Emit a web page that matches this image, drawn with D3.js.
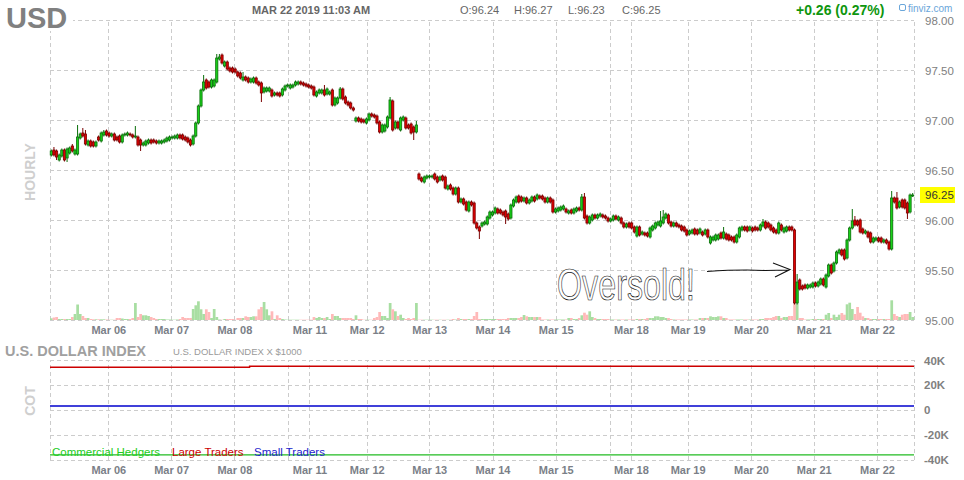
<!DOCTYPE html>
<html><head><meta charset="utf-8">
<script src="https://cdn.jsdelivr.net/npm/d3@7"></script>
<style>
body{margin:0;background:#fff}
svg{display:block}
text{font-family:"Liberation Sans",Arial,sans-serif}
</style>
</head><body>
<svg id="chart" width="964" height="480"></svg>
<script>
// ---------- DATA ----------
const opens=[
96.65,96.70,96.69,96.60,96.64,96.70,96.62,96.67,96.74,96.66,
96.66,96.82,96.87,96.86,96.75,96.79,96.78,96.74,96.83,96.79,
96.85,96.89,96.87,96.84,96.86,96.83,96.84,96.78,96.85,96.85,
96.86,96.85,96.83,96.83,96.80,96.75,96.75,96.77,96.80,96.80,
96.79,96.77,96.77,96.78,96.79,96.80,96.82,96.82,96.82,96.85,
96.85,96.83,96.82,96.80,96.76,96.84,96.97,97.14,97.30,97.40,
97.38,97.33,97.34,97.38,97.61,97.65,97.54,97.58,97.52,97.52,
97.51,97.48,97.47,97.40,97.43,97.42,97.38,97.38,97.42,97.38,
97.37,97.28,97.29,97.29,97.30,97.25,97.27,97.27,97.25,97.30,
97.34,97.32,97.33,97.35,97.36,97.38,97.37,97.36,97.35,97.34,
97.33,97.24,97.27,97.27,97.30,97.26,97.26,97.30,97.15,97.17,
97.22,97.31,97.23,97.18,97.17,97.12,96.99,97.02,97.01,97.00,
96.97,97.00,97.06,97.05,97.04,96.98,96.88,96.89,96.93,97.02,
97.19,96.92,96.98,96.90,97.00,97.02,96.95,96.96,96.93,96.88,
96.46,96.42,96.38,96.42,96.43,96.43,96.46,96.43,96.40,96.44,
96.43,96.31,96.35,96.32,96.26,96.32,96.18,96.21,96.18,96.09,
96.18,96.17,95.97,95.93,95.94,95.96,95.96,96.02,96.05,96.07,
96.11,96.10,96.08,96.09,96.06,96.02,96.14,96.18,96.24,96.23,
96.19,96.22,96.17,96.19,96.23,96.21,96.24,96.24,96.22,96.18,
96.22,96.20,96.08,96.09,96.10,96.11,96.11,96.07,96.10,96.07,
96.09,96.12,96.10,96.23,96.04,95.97,96.00,96.05,96.02,96.04,
96.05,96.04,96.02,95.99,96.00,96.04,96.00,96.02,95.97,95.93,
95.97,95.97,95.93,95.84,95.93,95.86,95.87,95.87,95.83,95.90,
95.92,95.95,95.94,95.97,96.02,96.05,95.98,95.94,95.97,95.95,
95.94,95.93,95.90,95.86,95.87,95.91,95.90,95.87,95.88,95.86,
95.90,95.77,95.80,95.80,95.81,95.87,95.82,95.86,95.85,95.83,
95.83,95.78,95.83,95.90,95.93,95.93,95.90,95.92,95.93,95.92,
95.90,95.94,95.98,95.97,95.95,95.92,95.90,95.87,95.95,95.88,
95.89,95.93,95.93,95.90,95.17,95.40,95.34,95.35,95.32,95.33,
95.33,95.37,95.34,95.36,95.41,95.33,95.44,95.55,95.49,95.57,
95.67,95.70,95.70,95.62,95.80,95.92,96.00,95.99,96.00,95.91,
95.87,95.88,95.87,95.78,95.80,95.82,95.82,95.78,95.80,95.78,
95.71,96.22,96.22,96.13,96.20,96.20,96.17,96.08,96.24];
const closes=[
96.69,96.65,96.63,96.65,96.70,96.60,96.71,96.72,96.69,96.70,
96.83,96.86,96.84,96.76,96.79,96.74,96.74,96.78,96.80,96.87,
96.88,96.85,96.84,96.86,96.80,96.80,96.78,96.85,96.86,96.87,
96.85,96.83,96.84,96.75,96.75,96.77,96.79,96.80,96.77,96.78,
96.77,96.79,96.79,96.80,96.82,96.83,96.83,96.84,96.85,96.82,
96.81,96.80,96.78,96.75,96.84,96.97,97.14,97.30,97.38,97.32,
97.33,97.40,97.40,97.62,97.63,97.57,97.58,97.51,97.49,97.48,
97.48,97.44,97.42,97.43,97.40,97.38,97.41,97.42,97.37,97.35,
97.27,97.32,97.32,97.32,97.24,97.27,97.25,97.24,97.31,97.34,
97.35,97.35,97.35,97.38,97.38,97.36,97.35,97.34,97.33,97.32,
97.25,97.28,97.30,97.30,97.25,97.31,97.28,97.15,97.22,97.22,
97.31,97.21,97.17,97.15,97.12,97.10,97.02,96.99,96.98,96.98,
97.01,97.06,97.04,97.03,96.97,96.88,96.95,96.95,97.03,97.20,
96.90,96.98,96.92,97.02,97.03,96.92,96.92,96.87,96.88,96.95,
96.41,96.39,96.43,96.44,96.44,96.44,96.41,96.38,96.43,96.40,
96.32,96.34,96.31,96.26,96.32,96.18,96.21,96.16,96.10,96.18,
96.15,95.97,95.92,95.89,95.97,95.98,96.03,96.08,96.08,96.12,
96.07,96.07,96.05,96.03,96.01,96.15,96.20,96.23,96.18,96.19,
96.22,96.17,96.20,96.23,96.19,96.25,96.22,96.21,96.18,96.22,
96.18,96.08,96.11,96.12,96.13,96.14,96.08,96.09,96.07,96.11,
96.12,96.10,96.23,96.02,95.97,96.03,96.05,96.02,96.05,96.06,
96.03,96.02,95.99,96.01,96.04,96.01,96.03,95.97,95.93,95.96,
95.93,95.92,95.88,95.93,95.85,95.88,95.85,95.84,95.92,95.94,
95.97,95.98,95.99,96.03,96.06,95.97,95.94,95.97,95.94,95.93,
95.90,95.89,95.85,95.89,95.90,95.86,95.86,95.91,95.85,95.90,
95.83,95.83,95.83,95.85,95.85,95.82,95.88,95.81,95.80,95.80,
95.78,95.85,95.92,95.93,95.90,95.89,95.93,95.89,95.90,95.90,
95.95,95.98,95.92,95.93,95.90,95.88,95.87,95.97,95.90,95.92,
95.93,95.90,95.90,95.17,95.38,95.31,95.31,95.32,95.35,95.35,
95.37,95.34,95.38,95.41,95.35,95.45,95.55,95.47,95.57,95.68,
95.70,95.65,95.61,95.80,95.92,95.99,95.95,95.95,95.88,95.87,
95.89,95.83,95.78,95.82,95.82,95.79,95.78,95.80,95.77,95.71,
96.22,96.18,96.12,96.18,96.13,96.12,96.07,96.25,96.25];
// notable wick extremes [candle index, price]
const wickHighs=[[1,96.73],[8,96.76],[10,96.95],[12,96.92],[13,96.90],[20,96.90],[32,96.94],[58,97.45],[63,97.66],[64,97.66],[73,97.48],[104,97.35],[110,97.33],[129,97.23],[139,96.99],[202,96.26],[203,96.27],[232,96.09],[233,96.10],[256,95.93],[271,96.01],[284,95.46],[305,96.11],[306,96.04],[320,96.29],[322,96.28],[328,96.27]];
const wickLows=[[2,96.60],[6,96.58],[34,96.69],[80,97.18],[138,96.80],[163,95.81],[173,95.96],[326,96.01],[328,96.23]];
const volumes=[
1.7,2.5,3,1,1,1,1,1,3,6,
15.5,6,4,2,2,1,0.7,0.7,0.7,0.7,
0.7,0.5,0.3,0.3,0.3,2,2,1.5,1,1,
1,2,17,3,6,4.7,4.7,4,3,2,
1,1,1,1,0.5,0.5,0.3,0.3,0.5,1,
3,2,2,2,11,14.7,18.7,10.7,6,10.7,
8,2,11,3,0.5,0.3,1,1,1,1,
0.3,2,2,2,3.7,3,3,3.7,3.7,10.7,
13,18,10.7,4.7,8.7,1,4.7,2,1,0.5,
0.3,0.3,0.3,0.3,0.3,0.3,0.3,0.3,0.3,0.3,
3,2,3,2,2,3,1,6,4,4,
2,2,2,2,2,1,4.7,1,1,0.3,
0.3,0.3,0.3,2,3,8,4,4,2,17,
10.7,8.7,4,5.3,2,1,2,1,2,17,
0.3,0.3,0.3,0.3,0.3,0.3,0.3,0.3,0.3,0.3,
0.3,0.3,0.3,1,0.5,2,1,1,1,1,
1,4,8,1,1,1,1,1,1,1,
1,1,1,1,2,2,2,2,2,3,
5,3.7,3,3,3,3,3,0.5,0.5,0.5,
0.5,0.5,0.5,0.5,0.5,0.5,0.5,2,2,1,
1,2,4.7,7.3,5.3,8.7,3,2,1,1,
1,1,1,0.5,0.5,0.5,0.5,0.5,0.5,0.5,
0.5,0.5,0.5,1,1,1,1,2,2,2,
3.7,3.7,3,3,2,2,1,0.5,0.5,0.5,
0.5,0.5,0.5,0.5,0.5,0.5,0.5,2,2,2,
2,3.7,3,3,3.7,3.7,2,2,0.5,0.5,
0.5,0.5,0.5,0.5,0.5,0.5,0.5,0.5,0.5,0.5,
1,1,2,2,2,3,4,4,2,3,
3,4,4,16.3,16.3,2,2,0.5,0.5,0.5,
1,1,1,1,1,5.3,7,2,5.3,3,
5.3,7,5.3,15.7,17.3,11,6,13,7.3,3.7,
2,2,1,1,1,1,1,1,1,1,
19.7,6,4,3,5.3,6,6,8,3];
// day starts, in candle-index units
const dayTicks=[22.2,46.1,70.2,98.8,120.6,144.4,168.5,192.6,221.2,242.8,266.9,290.8,314.9];
const dayLabels=["Mar 06","Mar 07","Mar 08","Mar 11","Mar 12","Mar 13","Mar 14","Mar 15","Mar 18","Mar 19","Mar 20","Mar 21","Mar 22"];
const weekStarts=[90.8,213.1];
const priceTicks=[95,95.5,96,96.5,97,97.5,98];
const cotTicks=[-40000,-20000,0,20000,40000];
const cotTickLabels=["-40K","-20K","0","20K","40K"];
const cotIdx=[0,76,329];
const cotCommercial=[-36300,-36300,-36300];
const cotLarge=[34200,35000,35000];
const cotSmall=[3000,3000,3000];
const lastPrice=96.25;
const header={date:"MAR 22 2019 11:03 AM",o:"96.24",h:"96.27",l:"96.23",c:"96.25",chg:"+0.26 (0.27%)"};

// ---------- CHART ----------
const N=closes.length;
const svg=d3.select("#chart");
const L=50,R=914,T=20,B=320,CT=360,CB=459.5;
const x=d3.scaleLinear().domain([0,329]).range([L,R]);
const y=d3.scaleLinear().domain([95,98]).range([B,T]);
const yv=d3.scaleLinear().domain([0,20]).range([B,B-20]);
const yc=d3.scaleLinear().domain([-40000,40000]).range([CB,CT]);
const GRID="#cccccc";

svg.append("rect").attr("width",964).attr("height",480).attr("fill","#fff");

function styleGrid(g){
  g.select(".domain").remove();
  g.selectAll("line").attr("stroke",GRID).attr("stroke-dasharray","4,3").attr("shape-rendering","crispEdges");
  g.selectAll("text").remove();
}
const vlines=[0,...dayTicks,...weekStarts,329];
svg.append("g").attr("transform",`translate(${L},0)`)
  .call(d3.axisLeft(y).tickValues(priceTicks).tickSize(-(R-L)).tickFormat("")).call(styleGrid);
svg.append("g").attr("transform",`translate(0,${B})`)
  .call(d3.axisBottom(x).tickValues(vlines).tickSize(-(B-T)).tickFormat("")).call(styleGrid);
svg.append("g").attr("transform",`translate(${L},0)`)
  .call(d3.axisLeft(yc).tickValues(cotTicks).tickSize(-(R-L)).tickFormat("")).call(styleGrid);
svg.append("g").attr("transform",`translate(0,${CB})`)
  .call(d3.axisBottom(x).tickValues(vlines).tickSize(-(CB-CT)).tickFormat("")).call(styleGrid);

const candles=d3.range(N).map(i=>{
  const o=opens[i],c=closes[i];
  const hw=wickHighs.find(d=>d[0]===i), lw=wickLows.find(d=>d[0]===i);
  return {i,o,c,up:c>=o,
    h:hw?hw[1]:Math.max(o,c)+0.015,
    l:lw?lw[1]:Math.min(o,c)-0.015,
    v:volumes[i]};
});
const slot=x(1)-x(0);
// volume
svg.append("g").selectAll("rect").data(candles).join("rect")
  .attr("x",d=>x(d.i)).attr("width",slot+0.1)
  .attr("y",d=>yv(d.v)).attr("height",d=>B-yv(d.v))
  .attr("fill",d=>d.up?"#a8dea2":"#ffb9b9");

// candles
const cg=svg.append("g");
cg.selectAll("line").data(candles).join("line")
  .attr("x1",d=>x(d.i+0.5)).attr("x2",d=>x(d.i+0.5))
  .attr("y1",d=>y(d.h)).attr("y2",d=>y(d.l))
  .attr("stroke",d=>d.up?"#0a6e0a":"#7a0000").attr("stroke-width",1);
cg.selectAll("rect").data(candles).join("rect")
  .attr("x",d=>x(d.i+0.5)-1.1).attr("width",2.2)
  .attr("y",d=>y(Math.max(d.o,d.c)))
  .attr("height",d=>Math.max(1,Math.abs(y(d.o)-y(d.c))))
  .attr("fill",d=>d.up?"#19d219":"#e00000")
  .attr("stroke",d=>d.up?"#0a6e0a":"#7a0000").attr("stroke-width",0.8);

// axes labels
const axisText=g=>{g.select(".domain").remove();g.selectAll("line").remove();};
[[B,14],[CB,14.5]].forEach(([yy,dy])=>{
  svg.append("g").attr("transform",`translate(0,${yy})`)
    .call(d3.axisBottom(x).tickValues(dayTicks).tickSize(0).tickFormat((d,i)=>dayLabels[i]))
    .call(axisText).selectAll("text").attr("dy","0").attr("y",dy)
    .attr("font-size","11px").attr("font-weight","bold").attr("fill","#7b7f88").attr("font-family","Liberation Sans, Arial, sans-serif");
});
svg.append("g").attr("transform",`translate(${R},0)`)
  .call(d3.axisRight(y).tickValues(priceTicks).tickSize(0).tickFormat(d3.format(".2f")))
  .call(axisText).selectAll("text").attr("x",11).attr("dy","0.35em")
  .attr("font-size","11.5px").attr("fill","#808080").attr("font-family","Liberation Sans, Arial, sans-serif");
svg.append("g").attr("transform",`translate(${R},0)`)
  .call(d3.axisRight(yc).tickValues(cotTicks).tickSize(0).tickFormat((d,i)=>cotTickLabels[i]))
  .call(axisText).selectAll("text").attr("x",10).attr("dy","0.35em")
  .attr("font-size","11.5px").attr("font-weight","bold").attr("fill","#808080").attr("font-family","Liberation Sans, Arial, sans-serif");

// last price tag
svg.append("rect").attr("x",920).attr("y",y(lastPrice)-8).attr("width",35).attr("height",16).attr("fill","#ffff00");
svg.append("text").attr("x",925).attr("y",y(lastPrice)).attr("dy","0.35em")
  .attr("font-size","11.5px").attr("fill","#333").text(lastPrice.toFixed(2));

// COT lines
const cotLine=d3.line().x(d=>x(d[0])).y(d=>yc(d[1])).curve(d3.curveStepAfter);
[[cotLarge,"#cc0000"],[cotSmall,"#0000cc"],[cotCommercial,"#22bb22"]].forEach(([vals,col])=>{
  svg.append("path").attr("d",cotLine(cotIdx.map((k,j)=>[k,vals[j]])))
    .attr("fill","none").attr("stroke",col).attr("stroke-width",1.4);
});
const legend=[["Commercial Hedgers","#22cc22",52],["Large Traders","#cc0000",172],["Small Traders","#2222cc",254]];
legend.forEach(([t,c,lx])=>svg.append("text").attr("x",lx).attr("y",455.5).attr("font-size","11.5px").attr("fill",c).text(t));

// header
svg.append("rect").attr("x",3).attr("y",4).attr("width",70).attr("height",27).attr("fill","#fff");
svg.append("text").attr("x",6).attr("y",28).attr("font-size","29px").attr("font-weight","bold").attr("fill","#808080").text("USD");
svg.append("text").attr("x",311).attr("y",14).attr("text-anchor","middle").attr("font-size","11px").attr("font-weight","bold").attr("fill","#666").text(header.date);
[["O:"+header.o,460],["H:"+header.h,514],["L:"+header.l,568],["C:"+header.c,622]].forEach(([t,tx])=>
  svg.append("text").attr("x",tx).attr("y",14).attr("font-size","11px").attr("fill","#666").text(t));
svg.append("text").attr("x",796).attr("y",15).attr("font-size","14px").attr("font-weight","bold").attr("fill","#0e960e").text(header.chg);
svg.append("rect").attr("x",899.5).attr("y",4.5).attr("width",6).attr("height",6).attr("rx",1.5).attr("fill","none").attr("stroke","#6aa6da");
svg.append("text").attr("x",908).attr("y",11.5).attr("font-size","10px").attr("fill","#6aa6da").text("finviz.com");

svg.append("text").attr("transform","translate(35,172) rotate(-90)").attr("text-anchor","middle")
  .attr("font-size","14px").attr("font-weight","bold").attr("fill","#cfcfcf").text("HOURLY");
svg.append("text").attr("transform","translate(35,401) rotate(-90)").attr("text-anchor","middle")
  .attr("font-size","14px").attr("font-weight","bold").attr("fill","#cfcfcf").text("COT");
svg.append("text").attr("x",5).attr("y",356).attr("font-size","14.5px").attr("font-weight","bold").attr("fill","#a0a0a0").text("U.S. DOLLAR INDEX");
svg.append("text").attr("x",173).attr("y",355).attr("font-size","9.5px").attr("fill","#9a9a9a").text("U.S. DOLLAR INDEX X $1000");

// handwritten annotation (thin outlined lettering)
svg.append("text").attr("x",557).attr("y",300).attr("font-family","'Open Sans', sans-serif").attr("font-weight",300)
  .attr("font-size","44px").attr("fill","#fff").attr("stroke","#111").attr("stroke-width",0.7)
  .attr("textLength",138).attr("lengthAdjust","spacingAndGlyphs").text("Oversold!");
const ap=d3.path();
ap.moveTo(707,271.5); ap.bezierCurveTo(730,270,745,269.5,765,270.5); ap.lineTo(789,270);
ap.moveTo(773,263); ap.lineTo(790,269.5); ap.lineTo(775,277);
svg.append("path").attr("d",ap.toString()).attr("fill","none").attr("stroke","#111").attr("stroke-width",1.1);
</script>
</body></html>
